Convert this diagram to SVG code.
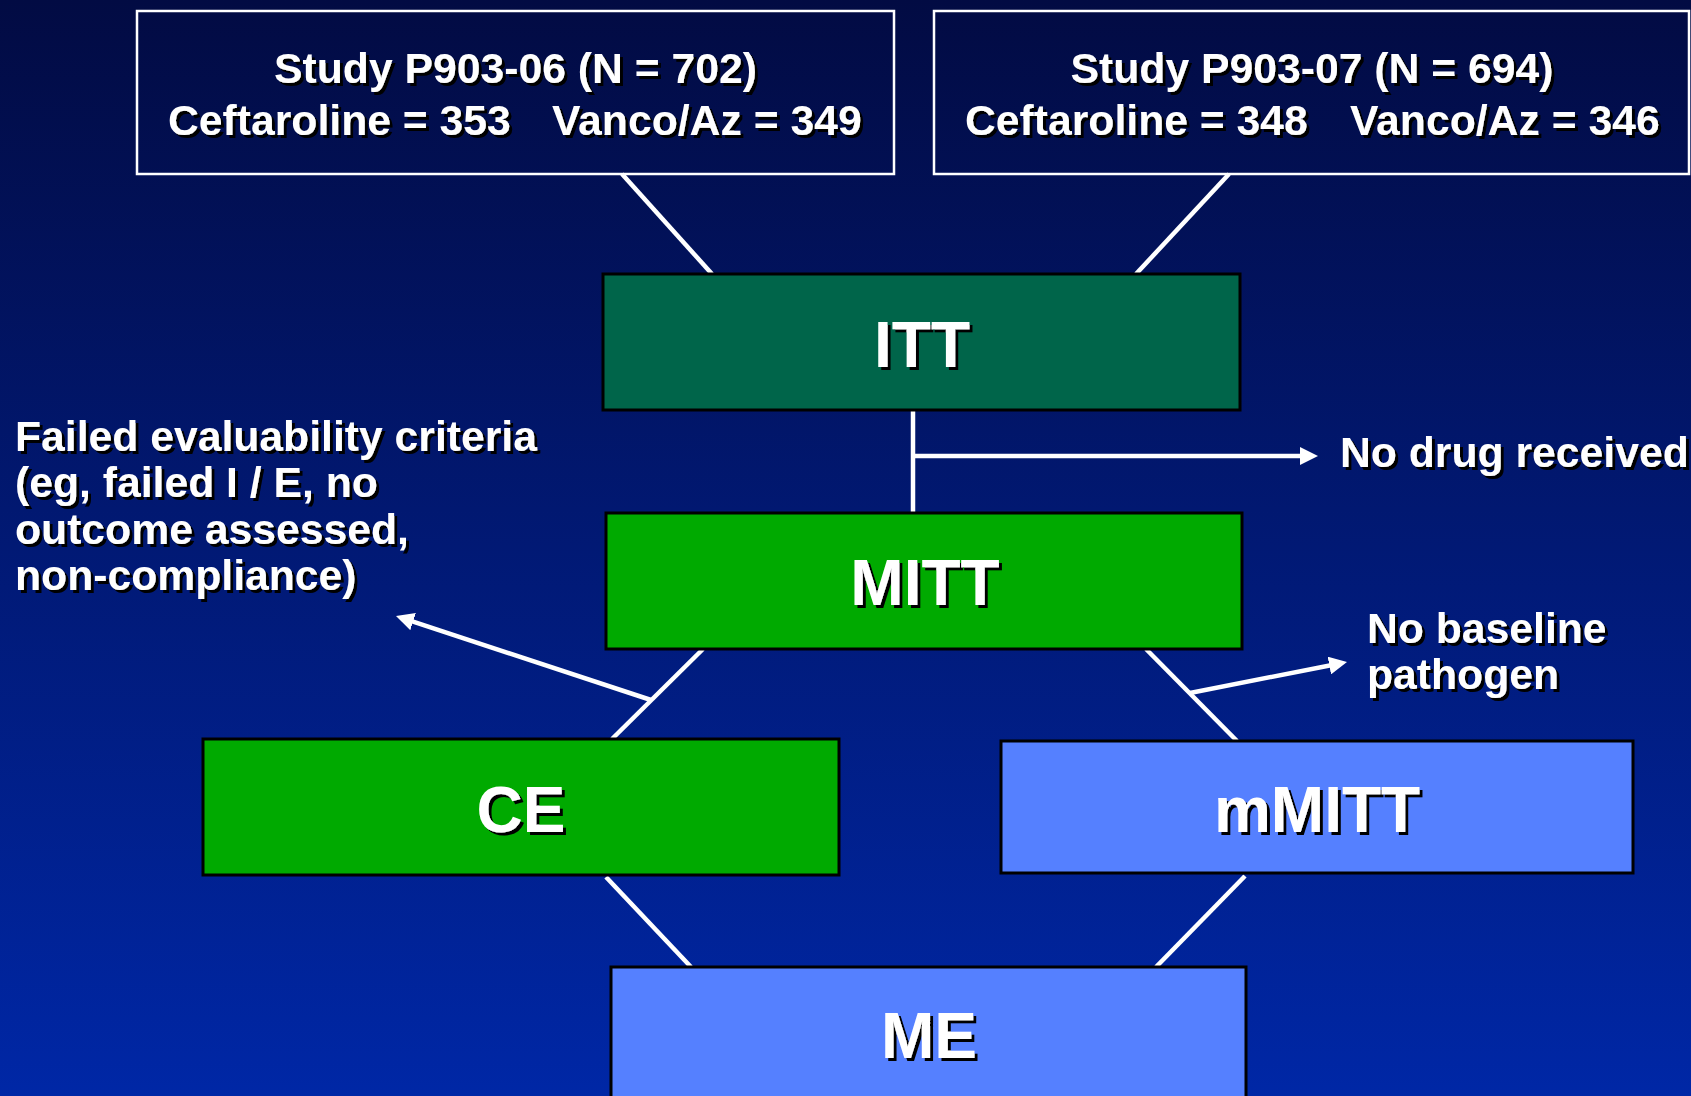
<svg xmlns="http://www.w3.org/2000/svg" width="1691" height="1096" viewBox="0 0 1691 1096">
<defs>
<linearGradient id="bg" x1="0" y1="0" x2="0" y2="1">
<stop offset="0" stop-color="#020b43"/>
<stop offset="1" stop-color="#0027a6"/>
</linearGradient>
<filter id="sh" x="-5%" y="-10%" width="115%" height="130%">
<feOffset in="SourceAlpha" dx="2.5" dy="2.5" result="o"/>
<feMerge><feMergeNode in="o"/><feMergeNode in="SourceGraphic"/></feMerge>
</filter>
<marker id="ah" markerUnits="userSpaceOnUse" markerWidth="18" markerHeight="18" refX="12" refY="9" orient="auto">
<path d="M0,0 L18,9 L0,18 z" fill="#ffffff"/>
</marker>
<style>
text{font-family:"Liberation Sans",Arial,sans-serif;font-weight:bold;fill:#ffffff;filter:url(#sh)}
.t42{font-size:42.7px}
.t64{font-size:64px;text-anchor:middle}
.study{fill:none;stroke:#ffffff;stroke-width:2.5}
.box{stroke:#000000;stroke-width:3}
.dg{fill:#00654a}
.g{fill:#00aa00}
.b{fill:#5580ff}
.c{stroke:#ffffff;stroke-width:4.5;fill:none}
</style>
</defs>
<rect x="0" y="0" width="1691" height="1096" fill="url(#bg)"/>

<g id="connectors">
<line class="c" x1="622" y1="174" x2="712" y2="274"/>
<line class="c" x1="1229" y1="174" x2="1136" y2="274"/>
<line class="c" x1="913" y1="410" x2="913" y2="513"/>
<line class="c" x1="913" y1="456" x2="1312" y2="456" marker-end="url(#ah)"/>
<line class="c" x1="703" y1="649" x2="612" y2="739"/>
<line class="c" x1="651" y1="700" x2="401.7" y2="617.9" marker-end="url(#ah)"/>
<line class="c" x1="1146" y1="649" x2="1237" y2="741"/>
<line class="c" x1="1190" y1="693" x2="1341.1" y2="663.2" marker-end="url(#ah)"/>
<line class="c" x1="606" y1="877" x2="691" y2="967"/>
<line class="c" x1="1245" y1="876" x2="1156" y2="967"/>
</g>

<g id="study06">
<rect class="study" x="137" y="11" width="757" height="163"/>
<text class="t42" x="515.5" y="83" text-anchor="middle">Study P903-06 (N = 702)</text>
<text class="t42" y="135"><tspan x="168">Ceftaroline = 353</tspan><tspan x="552">Vanco/Az = 349</tspan></text>
</g>

<g id="study07">
<rect class="study" x="934" y="11" width="755" height="163"/>
<text class="t42" x="1312" y="83" text-anchor="middle">Study P903-07 (N = 694)</text>
<text class="t42" y="135"><tspan x="965">Ceftaroline = 348</tspan><tspan x="1350">Vanco/Az = 346</tspan></text>
</g>

<g id="itt">
<rect class="box dg" x="603" y="274" width="637" height="136"/>
<text class="t64" x="922" y="367">ITT</text>
</g>

<g id="mitt">
<rect class="box g" x="606" y="513" width="636" height="136"/>
<text class="t64" x="925" y="605">MITT</text>
</g>

<g id="ce">
<rect class="box g" x="203" y="739" width="636" height="136"/>
<text class="t64" x="521" y="832">CE</text>
</g>

<g id="mmitt">
<rect class="box b" x="1001" y="741" width="632" height="132"/>
<text class="t64" x="1317" y="832">mMITT</text>
</g>

<g id="me">
<rect class="box b" x="611" y="967" width="635" height="140"/>
<text class="t64" x="929" y="1058">ME</text>
</g>

<g id="no-drug">
<text class="t42" x="1340" y="467">No drug received</text>
</g>

<g id="no-baseline">
<text class="t42"><tspan x="1367" y="643">No baseline</tspan><tspan x="1367" y="689">pathogen</tspan></text>
</g>

<g id="failed">
<text class="t42"><tspan x="15" y="451">Failed evaluability criteria</tspan><tspan x="15" y="497">(eg, failed I / E, no</tspan><tspan x="15" y="544">outcome assessed,</tspan><tspan x="15" y="590">non-compliance)</tspan></text>
</g>
</svg>
